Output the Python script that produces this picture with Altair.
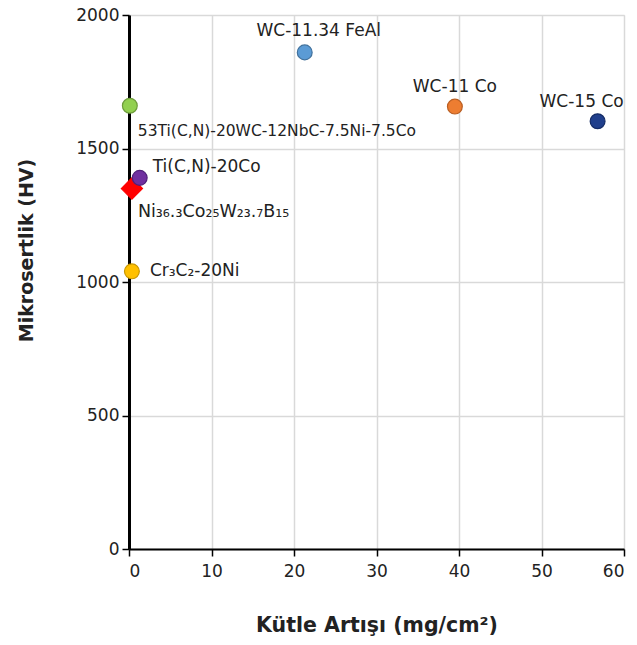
import altair as alt
import pandas as pd

names = ["53Ti(C,N)-20WC-12NbC-7.5Ni-7.5Co", "Ti(C,N)-20Co", "Cr₃C₂-20Ni",
         "WC-11.34 FeAl", "WC-11 Co", "WC-15 Co", "Ni₃₆.₃Co₂₅W₂₃.₇B₁₅"]
mass_gain = [0.1, 1.3, 0.35, 21.3, 39.5, 56.8, 0.35]
hardness = [1660, 1390, 1040, 1860, 1657, 1602, 1350]
shapes = ["circle", "circle", "circle", "circle", "circle", "circle", "diamond"]
fills = ["#92D050", "#7030A0", "#FFC000", "#5B9BD5", "#ED7D31", "#203F8C", "#FF0000"]
strokes = ["#6E9C3C", "#50207A", "#C89600", "#41719C", "#B95E22", "#142C66", "#FF0000"]

df = pd.DataFrame({"name": names, "x": mass_gain, "y": hardness, "shape": shapes})

# label offsets (style): align, dx, dy, font size
label_style = {
    "53Ti(C,N)-20WC-12NbC-7.5Ni-7.5Co": ("left", 8, 25, 15.5),
    "Ti(C,N)-20Co": ("left", 13, -11, 17),
    "Cr₃C₂-20Ni": ("left", 18, 0, 17),
    "WC-11.34 FeAl": ("center", 14, -21, 17),
    "WC-11 Co": ("center", 0, -20, 17),
    "WC-15 Co": ("center", -16, -19, 17),
    "Ni₃₆.₃Co₂₅W₂₃.₇B₁₅": ("left", 6, 23, 17.5),
}

FONT = "DejaVu Sans"

xenc = alt.X("x:Q", scale=alt.Scale(domain=[0, 60], nice=False),
             axis=alt.Axis(values=list(range(0, 61, 10)), format="d", title="Kütle Artışı (mg/cm²)",
                           domainColor="black", domainWidth=2, tickColor="black", tickSize=7,
                           tickWidth=1.5, labelFont=FONT, labelFontSize=17, labelColor="#222",
                           labelPadding=7, gridColor="#d9d9d9", gridWidth=1.5,
                           titleFont=FONT, titleFontSize=20.5, titleFontWeight="bold",
                           titleColor="#222", titleY=76, titleBaseline="middle"))
yenc = alt.Y("y:Q", scale=alt.Scale(domain=[0, 2000], nice=False),
             axis=alt.Axis(values=list(range(0, 2001, 500)), format="d", title="Mikrosertlik  (HV)",
                           domainColor="black", domainWidth=3, tickColor="black", tickSize=7,
                           tickWidth=1.5, labelFont=FONT, labelFontSize=17, labelColor="#222",
                           labelPadding=3, gridColor="#d9d9d9", gridWidth=1.5,
                           titleFont=FONT, titleFontSize=19, titleFontWeight="bold",
                           titleColor="#222", titleAngle=-90, titleX=-103, titleY=235,
                           titleAlign="center", titleBaseline="middle"))

points = alt.Chart(df).mark_point(filled=True, opacity=1, strokeWidth=1.2).encode(
    x=xenc, y=yenc,
    shape=alt.Shape("name:N", scale=alt.Scale(domain=names, range=shapes), legend=None),
    fill=alt.Fill("name:N", scale=alt.Scale(domain=names, range=fills), legend=None),
    stroke=alt.Stroke("name:N", scale=alt.Scale(domain=names, range=strokes), legend=None),
    size=alt.Size("shape:N", scale=alt.Scale(domain=["circle", "diamond"], range=[220, 450]), legend=None),
    order=alt.Order("y:Q", sort="ascending"),
)

layers = [points]
for n in names:
    align, dx, dy, fs = label_style[n]
    layers.append(
        alt.Chart(df).transform_filter(alt.datum.name == n).mark_text(
            align=align, baseline="middle", dx=dx, dy=dy, font=FONT, fontSize=fs, color="#222"
        ).encode(x="x:Q", y="y:Q", text="name:N")
    )

chart = alt.layer(*layers).properties(
    width=495, height=534,
    autosize=alt.AutoSizeParams(type="none"),
    padding={"left": 129, "top": 15, "right": 13, "bottom": 96},
).configure_view(stroke="black", strokeWidth=1.5).configure(background="white")

chart.save("out.html", embed_options={"renderer": "svg", "actions": False})
